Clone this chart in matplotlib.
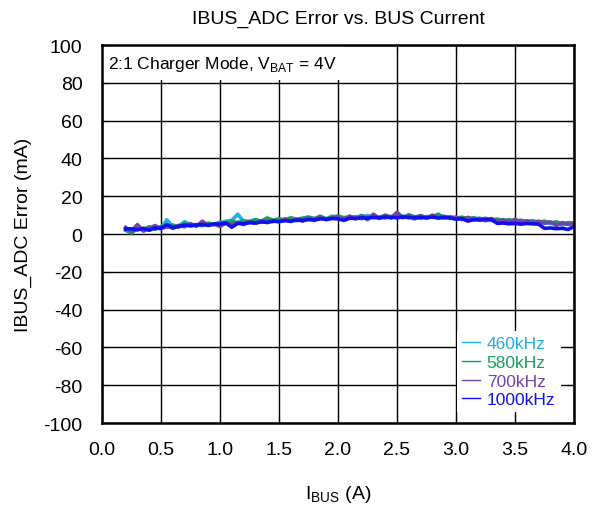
import matplotlib.pyplot as plt
import numpy as np

plt.rcParams['font.family'] = ['Liberation Sans', 'DejaVu Sans']
plt.rcParams['axes.unicode_minus'] = False

# virta-akseli (A)
ibus = np.linspace(0.2, 4.0, 77)

err_460 = [3.0, 1.0, 4.0, 2.5, 3.5, 2.8, 3.2, 7.5, 3.8, 4.2,
           6.5, 5.0, 4.6, 5.5, 4.8, 5.2, 6.0, 6.8, 7.2, 10.5,
           6.5, 6.8, 7.5, 6.2, 7.0, 6.5, 7.8, 7.5, 8.2, 7.0,
           8.0, 8.5, 7.6, 8.8, 8.0, 9.5, 8.2, 8.8, 8.5, 9.2,
           8.0, 9.8, 8.6, 9.0, 8.4, 9.4, 8.7, 9.6, 8.5, 9.0,
           8.2, 9.3, 8.8, 9.5, 8.4, 8.9, 8.0, 8.6, 7.8, 8.3,
           7.5, 7.9, 7.2, 6.8, 7.4, 6.5, 7.0, 6.2, 6.8, 6.4,
           5.8, 6.5, 5.5, 6.0, 4.8, 5.5, 5.6]
err_580 = [2.0, 0.5, 3.0, 2.2, 3.8, 2.5, 4.0, 3.5, 4.8, 3.6,
           5.5, 4.2, 5.0, 4.4, 5.8, 4.9, 6.2, 5.6, 6.8, 6.0,
           7.0, 6.4, 7.6, 6.8, 8.5, 7.2, 8.0, 7.4, 8.6, 7.8,
           8.4, 9.0, 8.2, 9.4, 8.0, 8.8, 9.6, 8.5, 9.2, 8.7,
           9.8, 8.9, 9.4, 8.6, 10.0, 9.0, 9.5, 8.8, 10.2, 9.1,
           9.6, 8.7, 9.0, 10.5, 8.6, 9.2, 8.4, 8.9, 8.1, 8.6,
           7.8, 8.3, 7.4, 7.9, 7.0, 7.6, 6.8, 7.3, 6.6, 7.0,
           6.2, 6.8, 5.9, 6.4, 5.5, 6.0, 5.8]
err_700 = [3.5, 1.5, 5.0, 1.5, 3.0, 4.5, 2.6, 4.2, 3.0, 4.6,
           3.8, 5.5, 4.0, 6.8, 4.5, 5.2, 4.0, 5.8, 4.8, 6.2,
           5.0, 6.5, 5.6, 7.0, 6.0, 7.2, 6.4, 8.0, 6.6, 7.8,
           6.8, 8.5, 7.2, 9.2, 7.5, 8.6, 9.0, 7.8, 9.5, 8.0,
           9.4, 7.6, 10.5, 8.2, 9.8, 8.4, 11.5, 8.6, 9.6, 8.0,
           9.8, 8.4, 10.0, 8.8, 9.4, 8.2, 9.0, 7.6, 8.8, 7.5,
           8.4, 7.0, 8.2, 6.8, 7.6, 6.4, 7.8, 6.2, 7.0, 5.8,
           6.8, 5.6, 6.4, 4.5, 6.0, 5.0, 5.6]
err_1000 = [2.6, 2.8, 2.2, 3.0, 2.0, 3.2, 3.0, 5.0, 3.4, 4.0,
            4.8, 4.4, 4.8, 5.0, 4.6, 5.4, 5.2, 5.8, 3.6, 5.6,
            5.4, 6.0, 5.8, 6.4, 6.2, 6.8, 6.6, 7.0, 6.8, 7.4,
            7.2, 7.6, 7.4, 8.0, 7.8, 8.2, 8.0, 7.2, 8.4, 8.2,
            8.6, 8.4, 8.8, 8.6, 9.0, 8.8, 8.6, 9.0, 8.8, 8.6,
            8.8, 8.6, 9.0, 8.4, 8.8, 8.6, 7.8, 8.2, 6.8, 7.6,
            7.4, 7.8, 7.6, 5.6, 5.8, 5.4, 5.6, 5.2, 5.6, 5.4,
            5.2, 3.0, 3.2, 2.8, 3.0, 2.4, 4.0]

labels = ['460kHz', '580kHz', '700kHz', '1000kHz']
colors = ['#1cb0ea', '#12a05c', '#7443a6', '#1010ee']

fig = plt.figure(figsize=(5.98, 5.10), dpi=100)
ax = fig.add_axes([0.1706, 0.1686, 0.7893, 0.7412])

for vals, lab, col in zip([err_460, err_580, err_700, err_1000], labels, colors):
    ax.plot(ibus, vals, color=col, lw=2.6, label=lab)

ax.set_xlim(0, 4)
ax.set_ylim(-100, 100)
ax.set_xticks(np.arange(0, 4.01, 0.5))
ax.set_yticks(np.arange(-100, 101, 20))
ax.xaxis.set_major_formatter(plt.FormatStrFormatter('%.1f'))
ax.grid(True, color='black', lw=1)
ax.tick_params(direction='in', labelsize=14, length=5, top=True, right=True)
ax.tick_params(axis='y', pad=14)
ax.tick_params(axis='x', pad=13)
for s in ax.spines.values():
    s.set_linewidth(1.8)

ax.set_title('IBUS_ADC Error vs. BUS Current', fontsize=14, pad=16)
ax.set_xlabel('I$_{\\mathregular{BUS}}$ (A)', fontsize=14, labelpad=18)
ax.set_ylabel('IBUS_ADC Error (mA)', fontsize=14, labelpad=8)

# teksti valkoisella taustalla, ilman reunaa (reunat jäävät näkyviin)
ax.text(0.0127, 0.952, '2:1 Charger Mode, V$_{\\mathregular{BAT}}$ = 4V', transform=ax.transAxes,
        fontsize=12.5, va='center', ha='left', zorder=2.2,
        bbox=dict(boxstyle='square,pad=0.45', fc='white', ec='none'))

leg = ax.legend(loc='lower right', bbox_to_anchor=(0.99, 0.005), fontsize=12.5,
                handlelength=1.0, handletextpad=0.4, labelspacing=0.2,
                frameon=True, edgecolor='none', fancybox=False, framealpha=1,
                borderpad=0.3)
for t, col in zip(leg.get_texts(), colors):
    t.set_color(col)
for h in leg.get_lines():
    h.set_linewidth(1)

fig.savefig('out.png', dpi=100)
